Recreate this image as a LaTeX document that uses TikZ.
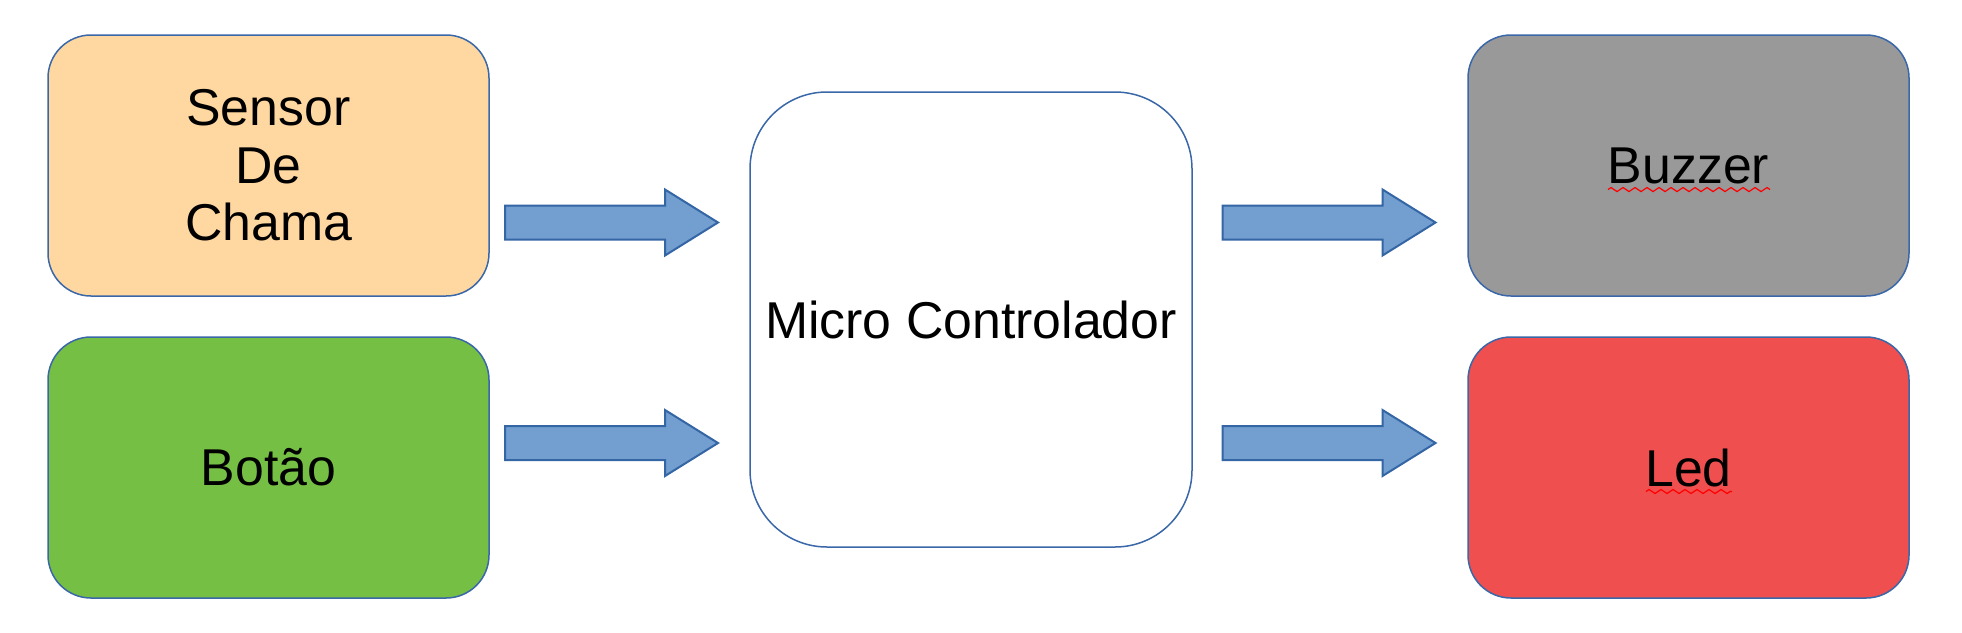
\documentclass[tikz,border=0pt]{standalone}
\usepackage{fontspec}
\setmainfont{Liberation Sans}
\usetikzlibrary{calc,decorations.pathmorphing}
\definecolor{bord}{HTML}{3A67A8}
\definecolor{peach}{HTML}{FFD8A1}
\definecolor{grn}{HTML}{76BF45}
\definecolor{gry}{HTML}{999999}
\definecolor{redb}{HTML}{EF4F4E}
\definecolor{arrfill}{HTML}{729FCF}
\definecolor{arrbord}{HTML}{3465A4}
\begin{document}
\begin{tikzpicture}[x=0.5pt,y=-0.5pt,
  box/.style={draw=bord, line width=0.75pt, rounded corners=21.5pt,
    minimum width=220.5pt, minimum height=130.5pt, inner sep=0pt,
    align=center, font=\fontsize{25.9}{28.75}\selectfont},
  mcu/.style={box, rounded corners=38.5pt, minimum width=221pt, minimum height=227.5pt, fill=white},
  arrowsty/.style={draw=arrbord, line width=1pt, fill=arrfill, line join=miter},
  barrow/.pic={\draw[arrowsty] (0,-17) -- (160,-17) -- (160,-33) -- (213,0) -- (160,33) -- (160,17) -- (0,17) -- cycle;},
  squig/.style={draw=red, line width=0.6pt, decorate,
    decoration={zigzag, segment length=6pt, amplitude=1pt}}
]
\useasboundingbox (0,0) rectangle (1962,632);

\node[box, fill=peach] (sensor) at (268.5,165.5) {Sensor\\De\hspace*{0.278em}\\Chama};
\node[box, fill=grn] (botao) at (268.5,467.5) {Botão};
\node[mcu] (micro) at (971,319.5) {Micro Controlador};
\node[box, fill=gry] (buzzer) at (1688.5,165.5) {Buzzer};
\node[box, fill=redb] (led) at (1688.5,467.5) {Led};

\pic (a1) at (505,222.5) {barrow};
\pic (a2) at (505,443) {barrow};
\pic (a3) at (1222.5,222.5) {barrow};
\pic (a4) at (1222.5,443) {barrow};

\draw[squig] ($(buzzer.base)+(-80.5,6.5)$) -- ++(162,0);
\draw[squig] ($(led.base)+(-42.5,5.5)$) -- ++(86,0);
\end{tikzpicture}
\end{document}
